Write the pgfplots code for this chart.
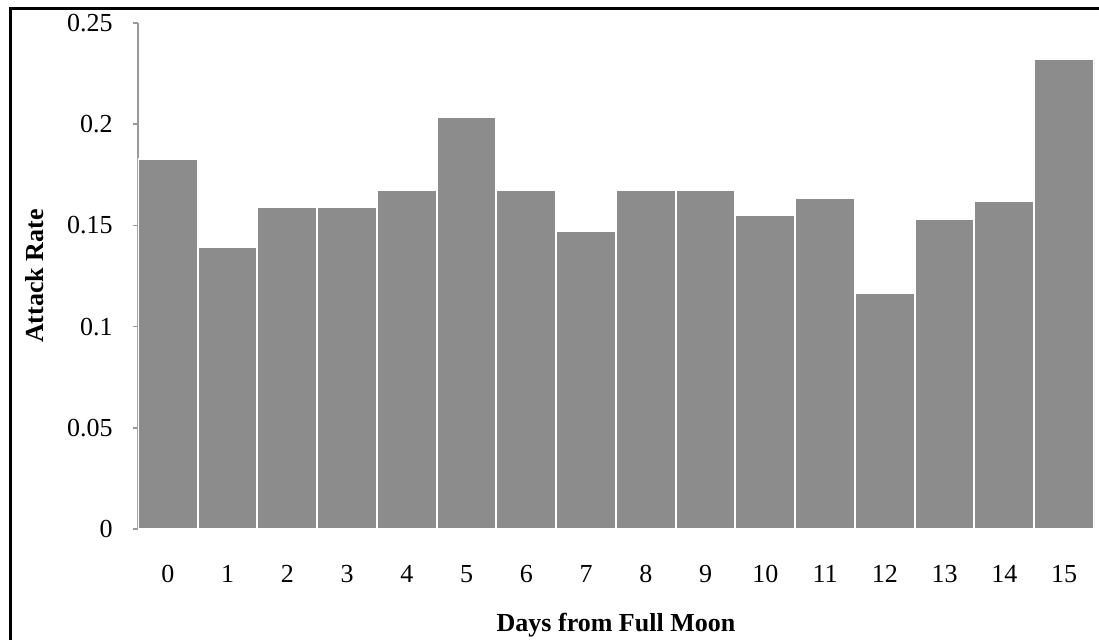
\documentclass[border=0pt]{standalone}
\usepackage{fontspec}
\setmainfont{Liberation Serif}
\usepackage{pgfplots}
\pgfplotsset{compat=1.18}
\definecolor{barfill}{HTML}{8C8C8C}
\definecolor{axisgray}{HTML}{9A9A9A}
\begin{document}
\begin{tikzpicture}
\begin{axis}[
  at={(0,0)}, anchor=south west,
  scale only axis,
  width=478pt, height=253pt,
  xmin=-0.5, xmax=15.5,
  ymin=0, ymax=0.25,
  axis x line=bottom, axis y line=left,
  axis line style={-, draw=axisgray, line width=0.8pt},
  xtick={0,...,15},
  xtick style={draw=none},
  ytick={0,0.05,0.1,0.15,0.2,0.25},
  yticklabels={0,0.05,0.1,0.15,0.2,0.25},
  ytick style={draw=axisgray, line width=0.8pt},
  tick align=outside, major tick length=2.5pt,
  /pgf/number format/assume math mode=true,
  tick label style={font=\fontsize{13}{15}\selectfont},
  yticklabel style={anchor=east, inner sep=0pt, xshift=-10pt},
  xticklabel style={anchor=base, inner sep=0pt, yshift=-24pt},
  xlabel={Days from Full Moon},
  ylabel={Attack Rate},
  label style={font=\fontsize{13}{15}\selectfont\bfseries},
  xlabel style={at={(axis description cs:0.5,0)}, anchor=base, inner sep=0pt, yshift=-51pt},
  ylabel style={at={([xshift=-51.5pt]axis description cs:0,0.5)}, anchor=center, inner sep=0pt},
]
\addplot[ybar, bar width=1, bar shift=0, fill=barfill, draw=white, line width=1pt]
  coordinates {
    (0,0.1827) (1,0.1394) (2,0.1593) (3,0.1593)
    (4,0.1675) (5,0.2034) (6,0.1675) (7,0.1471)
    (8,0.1675) (9,0.1675) (10,0.1552) (11,0.1634)
    (12,0.1165) (13,0.1534) (14,0.1619) (15,0.2323)
  };
\end{axis}
\draw[line width=1.5pt, line join=miter] (-63.5pt,-60pt) -- (-63.5pt,260.35pt) -- (490pt,260.35pt);
\pgfresetboundingbox
\path[use as bounding box] (-69pt,-55pt) rectangle (480.5pt,264.5pt);
\end{tikzpicture}
\end{document}
